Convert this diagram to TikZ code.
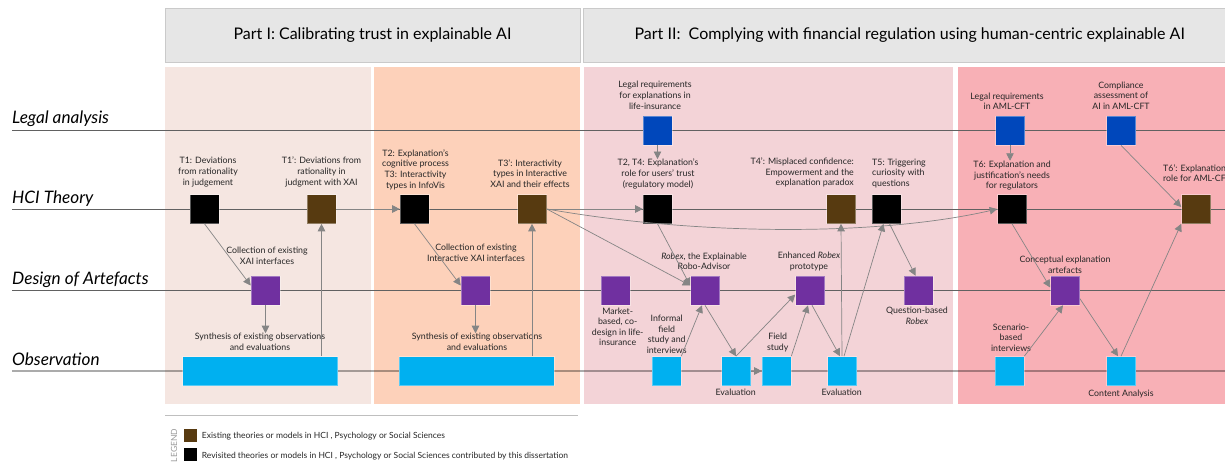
\documentclass[tikz,border=0pt]{standalone}
\usepackage{fontspec}
\setmainfont{Lato}
\usetikzlibrary{arrows.meta,calc}
\definecolor{pA}{HTML}{F5E6E1}
\definecolor{pB}{HTML}{FDD1BA}
\definecolor{pC}{HTML}{F3D3D7}
\definecolor{pD}{HTML}{F8B0B6}
\definecolor{brn}{HTML}{573A10}
\definecolor{blu}{HTML}{0047BB}
\definecolor{pur}{HTML}{7030A0}
\definecolor{cyn}{HTML}{00B0F0}
\definecolor{arrg}{HTML}{858585}
\definecolor{hdrf}{HTML}{E6E6E6}
\definecolor{hdrd}{HTML}{CACACA}
\tikzset{
  sq/.style={minimum size=29pt, inner sep=0pt, draw=white, draw opacity=0.35, line width=0.6pt},
  blk/.style={sq, fill=black},
  bro/.style={sq, fill=brn},
  blue/.style={sq, fill=blu},
  purp/.style={sq, fill=pur},
  cyan/.style={sq, fill=cyn},
  lbl/.style={font=\fontsize{8.8}{10.6}\selectfont, align=center, inner sep=0pt, text=black!85},
  lanelbl/.style={font=\fontsize{17.2}{19}\selectfont\itshape, anchor=base west, inner sep=0pt},
  lane/.style={draw=black!62, line width=0.9pt},
  obslane/.style={draw=black, draw opacity=0.33, line width=1.8pt},
  arr/.style={draw=arrg, line width=0.7pt, -{Triangle[length=7.5pt,width=7.5pt]}},
  hdrbox/.style={fill=hdrf, draw=hdrd, line width=0.8pt, font=\fontsize{16}{18}\selectfont, inner sep=0pt},
  legtxt/.style={font=\fontsize{8.5}{9.5}\selectfont, anchor=west, inner sep=0pt, text=black!85},
}
\begin{document}
\begin{tikzpicture}[x=1pt,y=-1pt]
\useasboundingbox (0,0) rectangle (1225,463);
% panels
\fill[pA] (165,67) rectangle (370.5,404);
\fill[pB] (373.5,67) rectangle (580,404);
\fill[pC] (583.5,67) rectangle (953,404);
\fill[pD] (957.5,67) rectangle (1240,404);
% headers
\node[hdrbox, minimum width=415pt, minimum height=54pt] (h1) at (372.5,35.3) {Part I: Calibrating trust in explainable AI};
\node[hdrbox, minimum width=652pt, minimum height=54pt] (h2) at (909.75,35.3) {Part II:\ \ Complying with financial regulation using human-centric explainable AI};
% lanes
\draw[lane] (12,130.5) -- (1230,130.5);
\draw[lane] (12,209) -- (1230,209);
\draw[lane] (12,290.5) -- (1230,290.5);
\draw[obslane] (12,371) -- (1230,371);
\node[lanelbl] (ll1) at (12,123.5) {Legal analysis};
\node[lanelbl] (ll2) at (12,203.5) {HCI Theory};
\node[lanelbl] (ll3) at (12,284.5) {Design of Artefacts};
\node[lanelbl] (ll4) at (12,365.5) {Observation};
% squares
\node[blk] (t1) at (204.5,209) {};
\node[bro] (t1p) at (321.5,209) {};
\node[blk] (t2) at (414.5,209) {};
\node[bro] (t3p) at (532,209) {};
\node[blk] (t24) at (657.5,209) {};
\node[bro] (t4p) at (841,209) {};
\node[blk] (t5) at (886.5,209) {};
\node[blk] (t6) at (1012,209) {};
\node[bro] (t6p) at (1196,209) {};
\node[blue] (leg1) at (657.5,130.5) {};
\node[blue] (leg2) at (1010,130.5) {};
\node[blue] (comp) at (1121,130.5) {};
\node[purp] (xai) at (265.5,290.5) {};
\node[purp] (ixai) at (475.5,290.5) {};
\node[purp] (market) at (615.5,290.5) {};
\node[purp] (robex) at (705,290.5) {};
\node[purp] (enh) at (810,290.5) {};
\node[purp] (qrob) at (918.5,290.5) {};
\node[purp] (concept) at (1065,290.5) {};
\node[cyan] (informal) at (666.5,371) {};
\node[cyan] (eval1) at (736,371) {};
\node[cyan] (field) at (776.5,371) {};
\node[cyan] (eval2) at (842,371) {};
\node[cyan] (scen) at (1009.5,371) {};
\node[cyan] (content) at (1121,371) {};
\node[sq, fill=cyn, minimum width=155pt] (obs1) at (260.2,371) {};
\node[sq, fill=cyn, minimum width=155pt] (obs2) at (476.5,371) {};
% labels
\node[lbl] (lt1) at (208,172) {T1: Deviations\\from rationality\\in judgement};
\node[lbl] (lt1p) at (321.5,172) {T1': Deviations from\\rationality in\\judgment with XAI};
\node[lbl] (lt2) at (415.5,169.5) {T2: Explanation's\\cognitive process\\T3: Interactivity\\types in InfoVis};
\node[lbl] (lt3p) at (530,173.5) {T3': Interactivity\\types in Interactive\\XAI and their effects};
\node[lbl] (lcol1) at (267,255.5) {Collection of existing\\XAI interfaces};
\node[lbl] (lcol2) at (476,253) {Collection of existing\\Interactive XAI interfaces};
\node[lbl] (syn1) at (260,342) {Synthesis of existing observations\\and evaluations};
\node[lbl] (syn2) at (477,342) {Synthesis of existing observations\\and evaluations};
\node[lbl] (lleg1) at (655,95.3) {Legal requirements\\for explanations in\\life-insurance};
\node[lbl] (lt24) at (658,174) {T2, T4: Explanation's\\role for users' trust\\(regulatory model)};
\node[lbl, align=right, anchor=east] (lt4p) at (854,172.5) {T4': Misplaced confidence:\\Empowerment and the\\explanation paradox};
\node[lbl, align=left, anchor=west] (lt5) at (872,173.5) {T5: Triggering\\curiosity with\\questions};
\node[lbl] (lleg2) at (1007,101.3) {Legal requirements\\in AML-CFT};
\node[lbl] (lcomp) at (1121,95.6) {Compliance\\assessment of\\AI in AML-CFT};
\node[lbl] (lt6) at (1012,175.6) {T6: Explanation and\\justification's needs\\for regulators};
\node[lbl, align=left, anchor=west] (lt6p) at (1163,173) {T6': Explanation's\\role for AML-CFT};
\node[lbl] (lrobex) at (704,261.3) {\textit{Robex}, the Explainable\\Robo-Advisor};
\node[lbl] (lenh) at (809,261.3) {Enhanced \textit{Robex}\\prototype};
\node[lbl] (lmarket) at (617.7,326.7) {Market-\\based, co-\\design in life-\\insurance};
\node[lbl] (linformal) at (666.7,334.3) {Informal\\field\\study and\\interviews};
\node[lbl] (lfield) at (777.7,342.5) {Field\\study};
\node[lbl] (leval1) at (735.7,392.7) {Evaluation};
\node[lbl] (leval2) at (841.7,392.4) {Evaluation};
\node[lbl] (lqrob) at (917,316) {Question-based\\\textit{Robex}};
\node[lbl] (lconcept) at (1065,264.5) {Conceptual explanation\\artefacts};
\node[lbl] (lscen) at (1011,337.7) {Scenario-\\based\\interviews};
\node[lbl] (lcontent) at (1121,394) {Content Analysis};
% arrows part I
\draw[arr] (t1.south) -- ([yshift=5pt]xai.west);
\draw[arr] (xai.south) -- (xai.south |- syn1.north);
\draw[arr] (obs1.north -| t1p) -- (t1p.south);
\draw[arr] (t1p.east) -- (t2.west);
\draw[arr] (t2.south) -- ([yshift=5pt]ixai.west);
\draw[arr] (ixai.south) -- (ixai.south |- syn2.north);
\draw[arr] (obs2.north -| t3p) -- (t3p.south);
% arrows part II
\draw[arr] (t3p.east) -- (t24.west);
\draw[arr] (t3p.east) -- ([yshift=5pt]robex.west);
\draw[arr] (t24.south) -- ([yshift=5pt]robex.west);
\draw[arr] (t3p.east) .. controls (700,236) and (880,236) .. (t6.west);
\draw[arr] (leg1.south) -- (leg1.south |- lt24.north);
\draw[arr] (informal.north east) -- ([xshift=-3pt]robex.south);
\draw[arr] (robex.south) -- (eval1.north);
\draw[arr] (eval1.east) -- (field.west);
\draw[arr] (eval1.north) -- ([yshift=-4pt]enh.west);
\draw[arr] (field.north east) -- ([xshift=-2pt]enh.south);
\draw[arr] ([xshift=2pt]enh.south) -- ([xshift=-2pt]eval2.north);
\draw[arr] (eval2.north) -- (t4p.south);
\draw[arr] ([xshift=2pt]eval2.north) -- ([xshift=-3pt]t5.south);
\draw[arr] ([xshift=3pt]t5.south) -- ([xshift=-3pt]qrob.north);
\draw[arr] (leg2.south) -- (leg2.south |- lt6.north);
\draw[arr] (comp.south) -- ([yshift=2pt]t6p.west);
\draw[arr] (t6.south) -- ([yshift=3pt]concept.west);
\draw[arr] (scen.north east) -- ([xshift=-2pt]concept.south);
\draw[arr] ([yshift=-8pt]concept.east) -- ([xshift=-3pt]content.north);
\draw[arr] (content.north) -- (t6p.south west);
% legend
\draw[draw=black!25, line width=0.8pt] (165,415.7) -- (578,415.7);
\node[rotate=90, font=\fontsize{8.5}{9.5}\selectfont, text=black!40, inner sep=0pt] (legt) at (174,445.5) {LEGEND};
\node[sq, fill=brn, minimum size=13pt, draw=none] (lgb) at (190.5,435.5) {};
\node[sq, fill=black, minimum size=13pt, draw=none] (lgk) at (190.5,454.5) {};
\node[legtxt] (lgbt) at (201.7,435.7) {Existing theories or models in HCI , Psychology or Social Sciences};
\node[legtxt] (lgkt) at (201.7,456) {Revisited theories or models in HCI , Psychology or Social Sciences contributed by this dissertation};
\end{tikzpicture}
\end{document}
